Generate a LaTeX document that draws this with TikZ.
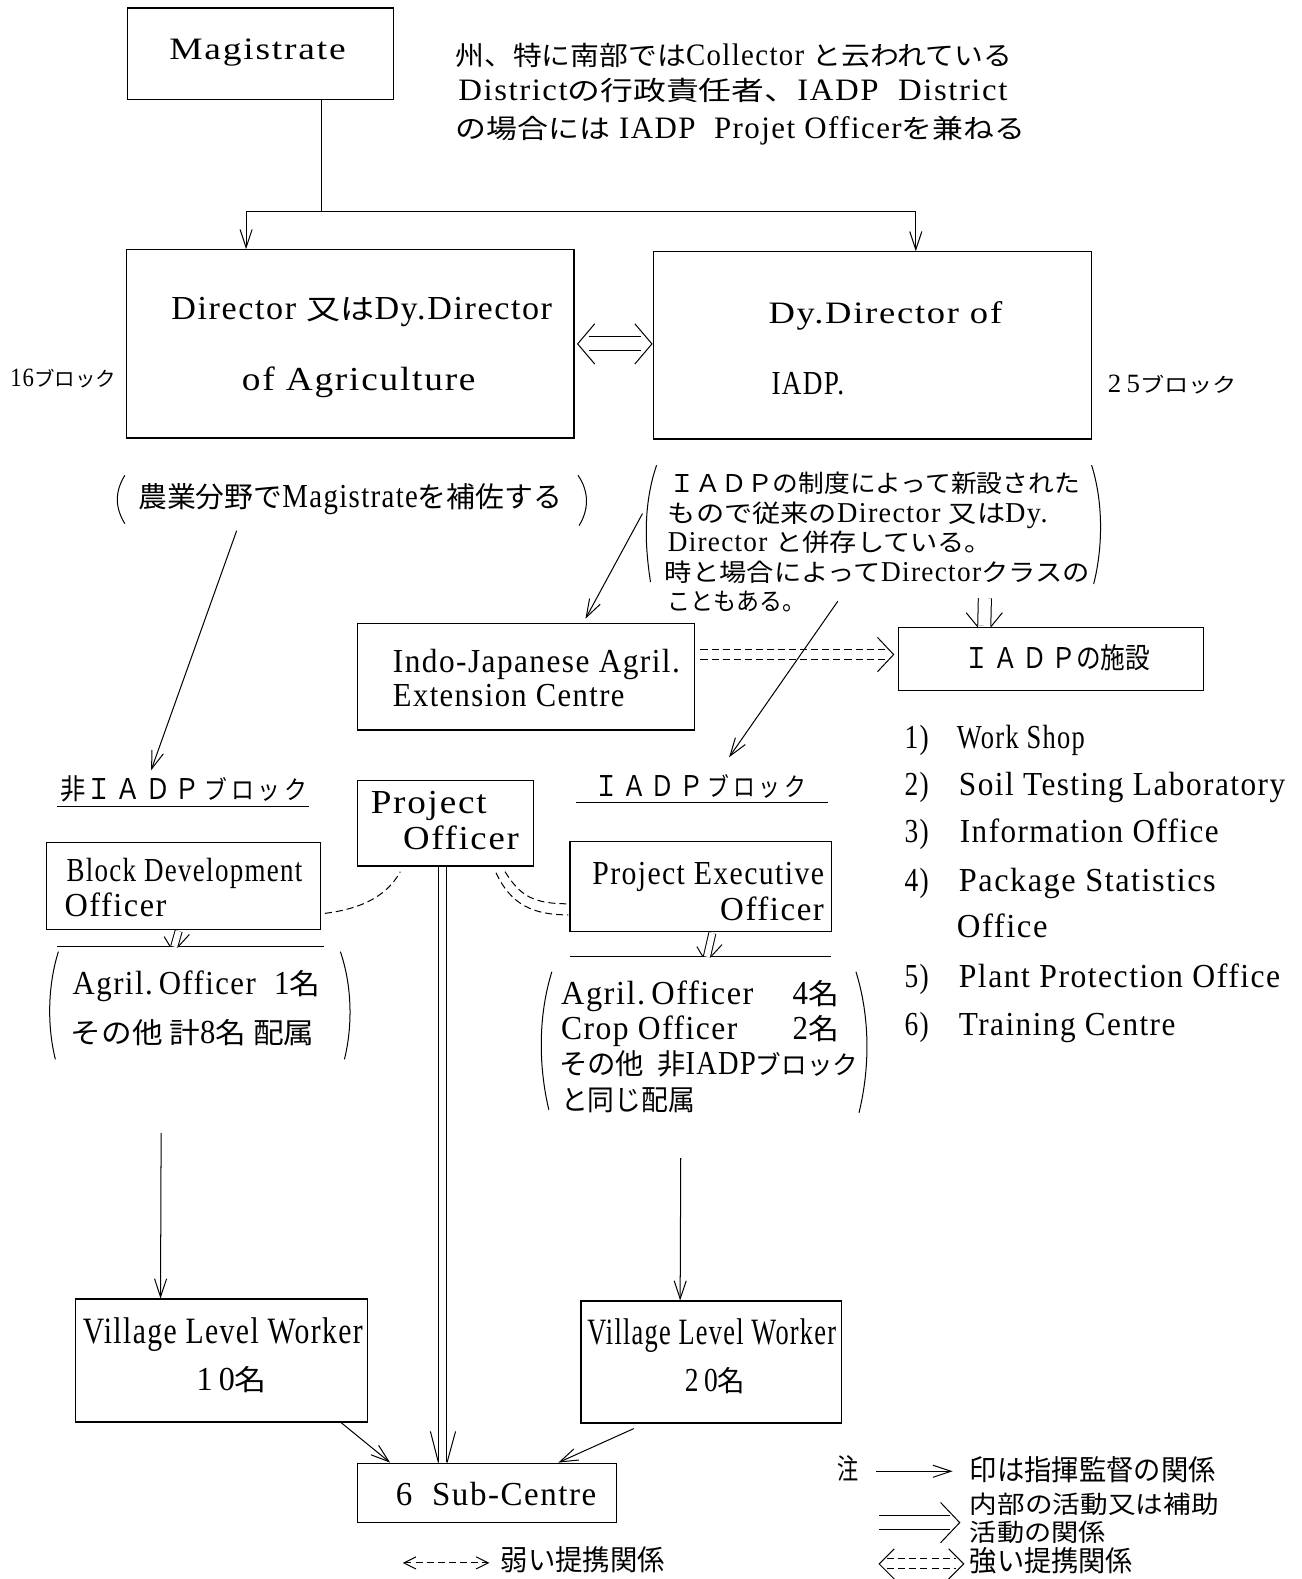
\documentclass[tikz,border=0pt]{standalone}
\usepackage{fontspec}
\usepackage{graphicx}
\setmainfont{Liberation Serif}[FakeStretch=0.85,LetterSpace=4]
\newfontfamily\jpfont{Noto Sans CJK JP}[Scale=0.85]
\usetikzlibrary{arrows.meta,calc}
\newcommand\jt[1]{{\jpfont #1}}
\newcommand\fitw[3][28]{\resizebox{#2pt}{#1pt}{\strut #3}}
\tikzset{
 box/.style={draw, line width=1.2pt, inner sep=0pt},
 lbl/.style={inner sep=0pt, anchor=west},
 ln/.style={line width=1pt},
 arr/.style={line width=1pt, -{Straight Barb[length=18pt,width=12pt]}},
 dbl/.style={double, double distance=#1, line width=1pt},
 dsh/.style={line width=1pt, dash pattern=on 7pt off 4pt},
}
\begin{document}
\begin{tikzpicture}[x=1pt,y=-1pt]
\useasboundingbox (0,0) rectangle (1292,1568);
\fill[white] (0,0) rectangle (1292,1568);

% boxes
\node[box, minimum width=264pt, minimum height=91pt] (mag) at (259,53.5) {};
\node[box, minimum width=444pt, minimum height=187pt] (dir) at (348,341.5) {};
\node[box, minimum width=435pt, minimum height=186pt] (dyd) at (866.5,343) {};
\node[box, minimum width=335pt, minimum height=106pt] (ind) at (522.5,672) {};
\node[box, minimum width=303pt, minimum height=63pt] (fac) at (1043.5,654.5) {};
\node[box, minimum width=175pt, minimum height=85pt] (po) at (442.5,817.5) {};
\node[box, minimum width=272pt, minimum height=86pt] (bdo) at (182,880) {};
\node[box, minimum width=260pt, minimum height=89pt] (peo) at (696,880.5) {};
\node[box, minimum width=290pt, minimum height=122pt] (vlw1) at (220,1351) {};
\node[box, minimum width=259pt, minimum height=121pt] (vlw2) at (706.5,1352.5) {};
\node[box, minimum width=257pt, minimum height=59pt] (sub) at (483.5,1482.5) {};

% texts
\node[lbl] (tmag) at (168,52) {\fitw[26]{175}{Magistrate}};
\node[lbl] (n1) at (452,58) {\fitw[26]{553}{\jt{州、特に南部では}Collector \jt{と云われている}}};
\node[lbl] (n2) at (455,92) {\fitw[26]{545}{District\jt{の行政責任者、}IADP\ \ District}};
\node[lbl] (n3) at (452,130) {\fitw[26]{566}{\jt{の場合には}\ IADP\ \ Projet Officer\jt{を兼ねる}}};
\node[lbl] (d1) at (170,309) {\fitw{378}{Director \jt{又は}Dy.Director}};
\node[lbl] (d2) at (240,380) {\fitw{232}{of\ Agriculture}};
\node[lbl] (e1) at (763,314) {\fitw[26]{232}{Dy.Director\ of}};
\node[lbl] (e2) at (766,384) {\fitw{72}{IADP.}};
\node[lbl] (b16) at (10,378) {\fitw[22]{105}{16\jt{\small ブロック}}};
\node[lbl] (b25) at (1100,383) {\fitw[22]{128}{2\,5\jt{\small ブロック}}};
\node[lbl] (p1t) at (137,496) {\fitw{421}{\jt{農業分野で}Magistrate\jt{を補佐する}}};
\node[lbl] (q1) at (665,482) {\fitw[24]{407}{\jt{ＩＡＤＰの制度によって新設された}}};
\node[lbl] (q2) at (663,512) {\fitw[24]{377}{\jt{もので従来の}Director \jt{又は}Dy.}};
\node[lbl] (q3) at (663,541) {\fitw[24]{322}{Director \jt{と併存している。}}};
\node[lbl] (q4) at (660,571) {\fitw[24]{422}{\jt{時と場合によって}Director\jt{クラスの}}};
\node[lbl] (q5) at (663,599) {\fitw[24]{137}{\jt{こともある。}}};
\node[lbl] (i1) at (390,660) {\fitw{285}{Indo-Japanese\ Agril.}};
\node[lbl] (i2) at (390,694) {\fitw{230}{Extension\ Centre}};
\node[lbl] (ft) at (958,656) {\fitw{184}{\jt{Ｉ\,Ａ\,Ｄ\,Ｐの施設}}};

% list
\node[lbl] (k1) at (898,735) {\fitw{24}{1)}};
\node[lbl] (k1t) at (950,735) {\fitw{127}{Work\ Shop}};
\node[lbl] (k2) at (898,782) {\fitw{24}{2)}};
\node[lbl] (k2t) at (952,782) {\fitw{324}{Soil\ Testing\ Laboratory}};
\node[lbl] (k3) at (898,829) {\fitw{24}{3)}};
\node[lbl] (k3t) at (953,829) {\fitw{257}{Information\ Office}};
\node[lbl] (k4) at (898,877) {\fitw{24}{4)}};
\node[lbl] (k4t) at (952,877) {\fitw{255}{Package\ Statistics}};
\node[lbl] (k4u) at (950,923) {\fitw{90}{Office}};
\node[lbl] (k5) at (898,973) {\fitw{24}{5)}};
\node[lbl] (k5t) at (952,973) {\fitw{319}{Plant\ Protection\ Office}};
\node[lbl] (k6) at (898,1020) {\fitw{24}{6)}};
\node[lbl] (k6t) at (952,1020) {\fitw{215}{Training\ Centre}};

% block labels
\node[lbl] (nonlab) at (60,786) {\fitw{245}{\jt{非Ｉ\,Ａ\,Ｄ\,Ｐ\,\small ブ\,ロ\,ッ\,ク}}};
\node[lbl] (iadplab) at (590,783) {\fitw{210}{\jt{Ｉ\,Ａ\,Ｄ\,Ｐ\,\small ブ\,ロ\,ッ\,ク}}};

% box texts
\node[lbl] (po1) at (368,800) {\fitw{115}{Project}};
\node[lbl] (po2) at (400,836) {\fitw{115}{Officer}};
\node[lbl] (bd1) at (66,867) {\fitw{234}{Block\ Development}};
\node[lbl] (bd2) at (64,902) {\fitw{101}{Officer}};
\node[lbl] (pe1) at (588,870) {\fitw{230}{Project\ Executive}};
\node[lbl] (pe2) at (715,906) {\fitw{103}{Officer}};
\node[lbl] (a1) at (72,980) {\fitw{246}{Agril.\,Officer\ \ 1\jt{名}}};
\node[lbl] (a2) at (70,1028) {\fitw{242}{\jt{その他\ 計}8\jt{名\ 配属}}};
\node[lbl] (c1t) at (557,989) {\fitw{191}{Agril.\,Officer}};
\node[lbl] (c1n) at (787,989) {\fitw{46}{4\jt{名}}};
\node[lbl] (c2t) at (557,1024) {\fitw{175}{Crop\ Officer}};
\node[lbl] (c2n) at (787,1024) {\fitw{46}{2\jt{名}}};
\node[lbl] (c3t) at (555,1059) {\fitw{297}{\jt{その他\ \ 非}IADP\jt{\small ブロック}}};
\node[lbl] (c4t) at (557,1095) {\fitw{133}{\jt{と同じ配属}}};
\node[lbl] (w1a) at (82,1325) {\fitw[31]{278}{Village\ Level\ Worker}};
\node[lbl] (w1b) at (195,1373) {\fitw{70}{1\,0\jt{名}}};
\node[lbl] (w2a) at (583,1326) {\fitw[31]{247}{Village\ Level\ Worker}};
\node[lbl] (w2b) at (680,1374) {\fitw{60}{2\,0\jt{名}}};
\node[lbl] (st) at (393,1487) {\fitw{199}{6\ \ Sub-Centre}};

% legend texts
\node[lbl] (g0) at (831,1461) {\fitw{21}{\jt{注}}};
\node[lbl] (g1t) at (963,1462) {\fitw{244}{\jt{印は指揮監督の関係}}};
\node[lbl] (g2t) at (963,1496) {\fitw[24]{247}{\jt{内部の活動又は補助}}};
\node[lbl] (g2u) at (963,1524) {\fitw[24]{135}{\jt{活動の関係}}};
\node[lbl] (g3t) at (963,1553) {\fitw{162}{\jt{強い提携関係}}};
\node[lbl] (g4t) at (497,1552) {\fitw{163}{\jt{弱い提携関係}}};

% Magistrate tree
\coordinate (jn) at (319,210);
\draw[ln] (mag.south -| jn) -- (jn);
\draw[arr] (jn) -| ($(dir.north west)+(119,0)$);
\draw[arr] (jn) -| ($(dyd.north west)+(261,0)$);

% double arrow between directors
\coordinate (al) at ($(dir.east)+(3,0)$);
\coordinate (ar) at ($(dyd.west)+(-1,-1.5)$);
\draw[dbl=13pt] ($(al)+(11,0)$) -- ($(ar)+(-11,0)$);
\draw[ln] ($(al)+(17,-20)$) -- (al) -- ++(17,20);
\draw[ln] ($(ar)+(-17,-20)$) -- (ar) -- ++(-17,20);

% double arrow into facilities
\coordinate (fa) at (978,594);
\coordinate (fb) at ($(fac.north west)+(86,0)$);
\draw[dbl=12pt] (fa) -- ($(fb)+(0,-1)$);
\draw[ln] ($(fb)+(-18,-14)$) -- ($(fb)+(-6.5,0)$);
\draw[ln] ($(fb)+(18,-14)$) -- ($(fb)+(6.5,0)$);

% dashed double arrow Indo-Japanese -> facilities
\coordinate (ia) at ($(ind.east)+(5,-22)$);
\coordinate (fw) at ($(fac.west)+(-4,-4.5)$);
\draw[dsh] ($(ia)+(0,-5)$) -- ($(fw)+(-8,-5)$);
\draw[dsh] ($(ia)+(0,5)$) -- ($(fw)+(-8,5)$);
\draw[ln] ($(fw)+(-16,-17)$) -- (fw) -- ++(-16,17);

% long single arrows
\coordinate (l1a) at (235,527); \coordinate (l1b) at (150,765);
\draw[arr] (l1a) -- (l1b);
\coordinate (l2a) at (638,510); \coordinate (l2b) at ($(ind.north west)+(227,-4)$);
\draw[arr] (l2a) -- (l2b);
\coordinate (l3a) at (832,597); \coordinate (l3b) at (724,752);
\draw[arr] (l3a) -- (l3b);

% weak link BDO - PO
\coordinate (s1) at ($(bdo.east)+(4,27)$);
\coordinate (s2) at ($(po.south)+(-45,5)$);
\draw[dsh] (s1) .. controls +(40,-5) and +(-12,22) .. (s2);

% strong link PO - PEO
\coordinate (c1) at ($(po.south)+(50,6)$);
\coordinate (c2) at ($(po.south)+(59,5)$);
\coordinate (c3) at ($(peo.west)+(-1,28)$);
\coordinate (c4) at ($(peo.west)+(-1,17)$);
\draw[dsh] (c1) .. controls +(15,32) and +(-35,0) .. (c3);
\draw[dsh] (c2) .. controls +(15,24) and +(-35,0) .. (c4);

% rules and underlines
\coordinate (r1a) at (57,940); \coordinate (r1b) at (322,940);
\draw[ln] (r1a) -- (r1b);
\coordinate (r2a) at (566,950); \coordinate (r2b) at (825,950);
\draw[ln] (r2a) -- (r2b);
\coordinate (u1a) at (57,801); \coordinate (u1b) at (307,801);
\draw[ln] (u1a) -- (u1b);
\coordinate (u2a) at (572,797); \coordinate (u2b) at (822,797);
\draw[ln] (u2a) -- (u2b);

% small double arrows under BDO and PEO
\coordinate (ba) at ($(bdo.south west)+(132,1)$);
\coordinate (bb) at (173,940);
\draw[dbl=6pt] (ba) -- (bb);
\draw[ln] ($(bb)+(-10,-10)$) -- ($(bb)+(-4,0)$);
\draw[ln] ($(bb)+(15,-12)$) -- ($(bb)+(4,0)$);
\coordinate (pa) at ($(peo.south west)+(142,1)$);
\coordinate (pb) at (702,950);
\draw[dbl=6pt] (pa) -- (pb);
\draw[ln] ($(pb)+(-10,-10)$) -- ($(pb)+(-4,0)$);
\draw[ln] ($(pb)+(15,-12)$) -- ($(pb)+(4,0)$);

% PO -> Sub-Centre double
\coordinate (pob) at ($(po.south west)+(85,0)$);
\coordinate (sut) at ($(sub.north west)+(85,0)$);
\draw[dbl=7pt] (pob) -- ($(sut)+(0,-1)$);
\draw[ln] ($(sut)+(-12,-31)$) -- ($(sut)+(-4,0)$);
\draw[ln] ($(sut)+(13,-31)$) -- ($(sut)+(4.5,0)$);

% VLW arrows
\coordinate (v1a) at (160,1125);
\draw[arr] (v1a) -- ($(vlw1.north west)+(85,0)$);
\coordinate (v2a) at (676,1150);
\draw[arr] (v2a) -- ($(vlw2.north west)+(99,0)$);
\draw[arr] ($(vlw1.south east)+(-27,0)$) -- ($(sub.north west)+(33,0)$);
\draw[arr] ($(vlw2.south west)+(53,5)$) -- ($(sub.north west)+(200,0)$);

% parentheses
\draw[ln] (124,472) .. controls (114,488) and (114,504) .. (124,520);
\draw[ln] (574,472) .. controls (585,488) and (585,506) .. (575,522);
\draw[ln] (652,462) .. controls (639,500) and (640,540) .. (646,578);
\draw[ln] (1084,462) .. controls (1096,500) and (1095,545) .. (1086,580);
\draw[ln] (58,945) .. controls (47,980) and (47,1020) .. (55,1052);
\draw[ln] (338,945) .. controls (350,980) and (350,1020) .. (342,1052);
\draw[ln] (548,965) .. controls (534,1010) and (535,1060) .. (545,1102);
\draw[ln] (850,965) .. controls (864,1010) and (864,1060) .. (853,1105);

% legend symbols
\coordinate (g1a) at (870,1461); \coordinate (g1b) at (946,1461);
\draw[arr] (g1a) -- (g1b);
\coordinate (g2a) at (873,1512); \coordinate (g2b) at (953,1512);
\draw[dbl=13pt] (g2a) -- ($(g2b)+(-10,0)$);
\draw[ln] ($(g2b)+(-19,-20)$) -- (g2b) -- ++(-19,20);
\coordinate (g3a) at (873,1553); \coordinate (g3b) at (957,1553);
\draw[dsh] ($(g3a)+(8,-5)$) -- ($(g3b)+(-8,-5)$);
\draw[dsh] ($(g3a)+(8,5)$) -- ($(g3b)+(-8,5)$);
\draw[ln] ($(g3a)+(15,-15)$) -- (g3a) -- ++(15,15);
\draw[ln] ($(g3b)+(-15,-15)$) -- (g3b) -- ++(-15,15);
\coordinate (g4a) at (400,1552); \coordinate (g4b) at (486,1552);
\draw[dsh, {Straight Barb[length=12pt,width=12pt]}-{Straight Barb[length=12pt,width=12pt]}] (g4a) -- (g4b);
\end{tikzpicture}
\end{document}
